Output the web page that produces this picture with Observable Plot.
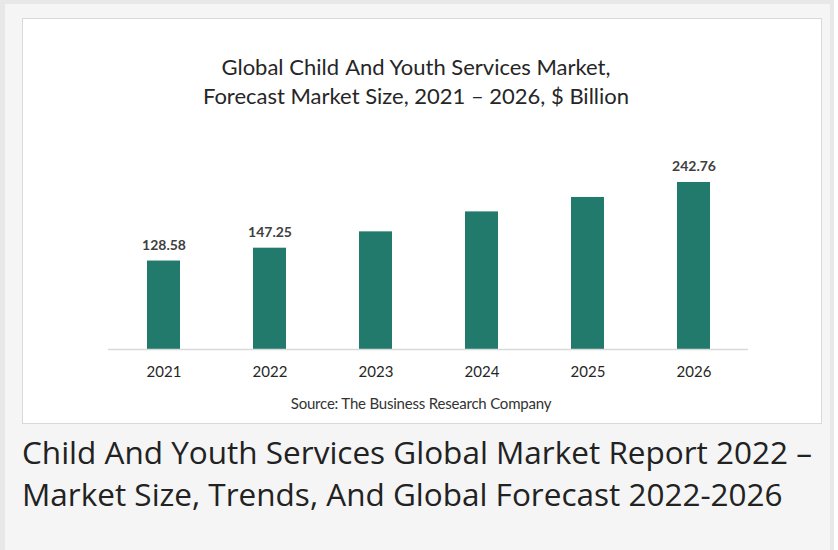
<!DOCTYPE html>
<html>
<head>
<meta charset="utf-8">
<script src="https://cdn.jsdelivr.net/npm/d3@7"></script>
<script src="https://cdn.jsdelivr.net/npm/@observablehq/plot@0.6"></script>
<style>
  html, body { margin: 0; padding: 0; background: #ffffff; }
  #frame { position: absolute; left: 0; top: 0; width: 834px; height: 560px; box-sizing: border-box;
           border: 4px solid #e8e8e8; border-left-width: 5px; background: #f5f5f5; }
  #panel { position: absolute; left: 22px; top: 18px; width: 800px; height: 406px; box-sizing: border-box;
           background: #ffffff; border: 1px solid #d9d9d9; }
  #title { position: absolute; left: 0; width: 786px; top: 33px; text-align: center;
           font-family: Lato, sans-serif; font-size: 22px; line-height: 29px; color: #262626; }
  #chart { position: absolute; left: 0; top: 112px; }
  #source { position: absolute; left: 0; width: 796px; top: 375px; text-align: center;
            font-family: Lato, sans-serif; font-size: 15px; letter-spacing: -0.2px; color: #333333; }
  #caption { position: absolute; left: 22px; top: 431px; width: 816px;
             font-family: "Open Sans", sans-serif; font-size: 31.5px; line-height: 42px; color: #222222; white-space: nowrap; }
</style>
</head>
<body>
<div id="frame"></div>
<div id="panel">
  <div id="title">Global Child&#8202; And Youth Services Market,<br>Forecast Market Size, 2021 – 2026, $ Billion</div>
  <div id="chart"></div>
  <div id="source">Source: The Business Research Company</div>
</div>
<div id="caption">Child And Youth Services Global Market Report 2022 –<br>Market Size, Trends, And Global Forecast 2022-2026</div>
<script>
const years = ["2021", "2022", "2023", "2024", "2025", "2026"];
const values = [128.58, 147.25, 171, 200, 221, 242.76];
const labeledYears = ["2021", "2022", "2026"];

const data = years.map((y, i) => ({year: y, value: values[i]}));
const labeled = data.filter(d => labeledYears.includes(d.year));

const chart = Plot.plot({
  width: 798,
  height: 250,
  marginTop: 46,
  marginBottom: 32,
  marginLeft: 85,
  marginRight: 73,
  style: {fontFamily: "Lato, sans-serif", background: "transparent"},
  x: {domain: years, paddingInner: 0.69, paddingOuter: 0.345, label: null},
  y: {domain: [0, 250], axis: null},
  marks: [
    Plot.barY(data, {x: "year", y: "value", fill: "#217a6b", inset: 0}),
    Plot.ruleY([0], {stroke: "#d9d9d9", strokeWidth: 1.5}),
    Plot.axisX({tickSize: 0, tickPadding: 17, fontSize: 15, fill: "#262626", label: null}),
    Plot.text(labeled, {x: "year", y: "value", text: d => d.value.toFixed(2), lineAnchor: "bottom", dy: -11,
                        fontSize: 14, fontWeight: "bold", fill: "#404040"})
  ]
});
document.getElementById("chart").appendChild(chart);
</script>
</body>
</html>
